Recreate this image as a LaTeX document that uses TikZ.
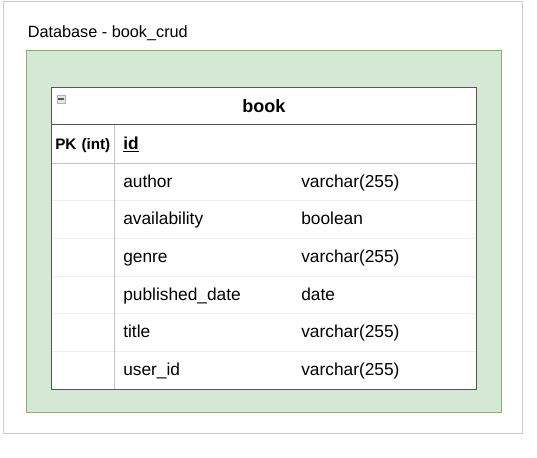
\documentclass[tikz,border=0pt]{standalone}
\usepackage{fontspec}
\setmainfont{Liberation Sans}
\usetikzlibrary{matrix, positioning}
\definecolor{dbfill}{HTML}{D5E8D4}
\definecolor{dbline}{HTML}{82B366}
\definecolor{pageline}{HTML}{CCCCCC}
\definecolor{tabline}{HTML}{555555}
\definecolor{gridline}{HTML}{C4C4C4}
\definecolor{rowline}{HTML}{EEEEEE}
\tikzset{keycell/.style={font=\bfseries\fontsize{11.4}{13}\selectfont}}

\begin{document}
\begin{tikzpicture}[x=0.75pt, y=-0.75pt]
		\useasboundingbox (0,0) rectangle (537,458);
		\draw [pageline] (3,1) rectangle (522,433);
		\node [anchor=base west, inner sep=0pt, font=\fontsize{12.2}{14}\selectfont] (dbname) at (27.5,37.3) {Database - book\_crud};
		\draw [dbline, fill=dbfill, line width=0.75pt] (26,50.5) rectangle (501.5,412);
		
		\node [fill=white, anchor=north west,
		minimum width=318.75pt, minimum height=27.75pt, inner sep=0pt,
		font=\bfseries\fontsize{13.5}{16}\selectfont]
		(book) at (51,87) {book};
		\matrix [matrix of nodes,
		nodes in empty cells,
		below = 0pt of book,
		fill=white, inner sep=0pt,
		nodes={text height=10.8pt, text depth=2.2pt, inner ysep=7.64pt, font=\fontsize{13}{15}\selectfont},
		column 1/.style={nodes={text width=47.25pt, inner xsep=0pt, align=center}},
		column 2/.style={nodes={text width=124.5pt, inner xsep=6.75pt, align=left}},
		column 3/.style={nodes={text width=129pt, inner xsep=2.25pt, align=left}}]
		(bookcols)
		{
			|[keycell]| PK (int) & \underline{\textbf{id}} & \\
			& author & varchar(255) \\
			& availability & boolean \\
			& genre & varchar(255) \\
			& published\_date & date \\
			& title & varchar(255) \\
			& user\_id & varchar(255) \\
		};
		\draw [gridline]
		(bookcols-1-1.south west) -- (bookcols-1-3.south east);
		\draw [rowline]
		(bookcols-2-1.south west) -- (bookcols-2-3.south east);
		\draw [rowline]
		(bookcols-3-1.south west) -- (bookcols-3-3.south east);
		\draw [rowline]
		(bookcols-4-1.south west) -- (bookcols-4-3.south east);
		\draw [rowline]
		(bookcols-5-1.south west) -- (bookcols-5-3.south east);
		\draw [rowline]
		(bookcols-6-1.south west) -- (bookcols-6-3.south east);
		\draw [gridline]
		(bookcols-1-1.north east) -- (bookcols-7-1.south east);
		\draw [tabline] (book.south west) -- (book.south east);
		\draw [tabline] (book.north west) rectangle (bookcols.south east);
		
		\node [draw=gray!60, fill=gray!20, minimum size=6pt, inner sep=0pt] (toggle) at (61.3,98.8) {};
		\draw [black!65, line width=1.1pt] ([xshift=1pt]toggle.west) -- ([xshift=-1pt]toggle.east);
	\end{tikzpicture}
\end{document}
